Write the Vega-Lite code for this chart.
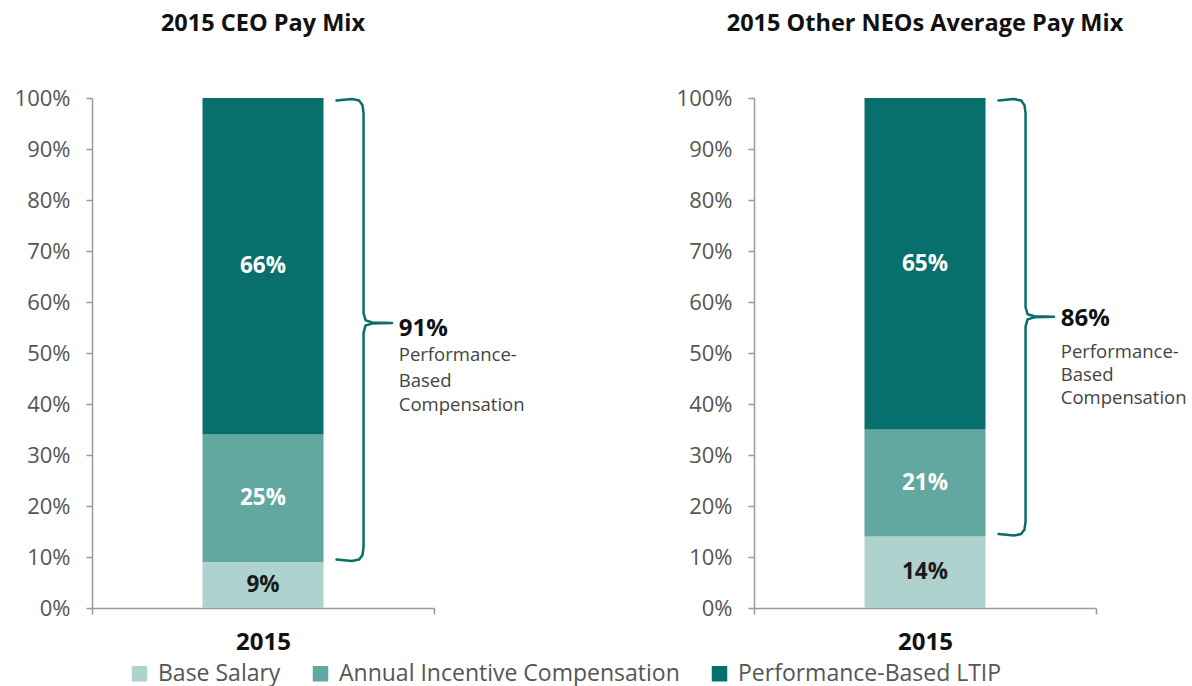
{
  "$schema": "https://vega.github.io/schema/vega-lite/v6.json",
  "background": "white",
  "padding": {"left": 14, "top": 11, "right": 5, "bottom": 5},
  "datasets": {
    "pay": [
      {"panel": "CEO", "year": "2015", "component": "Base Salary", "share": 0.09, "rank": 1},
      {"panel": "CEO", "year": "2015", "component": "Annual Incentive Compensation", "share": 0.25, "rank": 2},
      {"panel": "CEO", "year": "2015", "component": "Performance-Based LTIP", "share": 0.66, "rank": 3},
      {"panel": "NEO", "year": "2015", "component": "Base Salary", "share": 0.14, "rank": 1},
      {"panel": "NEO", "year": "2015", "component": "Annual Incentive Compensation", "share": 0.21, "rank": 2},
      {"panel": "NEO", "year": "2015", "component": "Performance-Based LTIP", "share": 0.65, "rank": 3}
    ],
    "brace": [
      {"panel": "CEO", "seq": 1, "bx": 0.715, "by": 0.995},
      {"panel": "CEO", "seq": 2, "bx": 0.76, "by": 0.998},
      {"panel": "CEO", "seq": 3, "bx": 0.781, "by": 0.995},
      {"panel": "CEO", "seq": 4, "bx": 0.791, "by": 0.986},
      {"panel": "CEO", "seq": 5, "bx": 0.794, "by": 0.97},
      {"panel": "CEO", "seq": 6, "bx": 0.794, "by": 0.578},
      {"panel": "CEO", "seq": 7, "bx": 0.8, "by": 0.564},
      {"panel": "CEO", "seq": 8, "bx": 0.82, "by": 0.56},
      {"panel": "CEO", "seq": 9, "bx": 0.877, "by": 0.559},
      {"panel": "CEO", "seq": 10, "bx": 0.82, "by": 0.558},
      {"panel": "CEO", "seq": 11, "bx": 0.8, "by": 0.554},
      {"panel": "CEO", "seq": 12, "bx": 0.794, "by": 0.54},
      {"panel": "CEO", "seq": 13, "bx": 0.794, "by": 0.12},
      {"panel": "CEO", "seq": 14, "bx": 0.791, "by": 0.104},
      {"panel": "CEO", "seq": 15, "bx": 0.781, "by": 0.095},
      {"panel": "CEO", "seq": 16, "bx": 0.76, "by": 0.092},
      {"panel": "CEO", "seq": 17, "bx": 0.715, "by": 0.095},
      {"panel": "NEO", "seq": 1, "bx": 0.715, "by": 0.995},
      {"panel": "NEO", "seq": 2, "bx": 0.76, "by": 0.998},
      {"panel": "NEO", "seq": 3, "bx": 0.781, "by": 0.995},
      {"panel": "NEO", "seq": 4, "bx": 0.791, "by": 0.986},
      {"panel": "NEO", "seq": 5, "bx": 0.794, "by": 0.97},
      {"panel": "NEO", "seq": 6, "bx": 0.794, "by": 0.59},
      {"panel": "NEO", "seq": 7, "bx": 0.8, "by": 0.576},
      {"panel": "NEO", "seq": 8, "bx": 0.82, "by": 0.572},
      {"panel": "NEO", "seq": 9, "bx": 0.877, "by": 0.571},
      {"panel": "NEO", "seq": 10, "bx": 0.82, "by": 0.57},
      {"panel": "NEO", "seq": 11, "bx": 0.8, "by": 0.566},
      {"panel": "NEO", "seq": 12, "bx": 0.794, "by": 0.552},
      {"panel": "NEO", "seq": 13, "bx": 0.794, "by": 0.17},
      {"panel": "NEO", "seq": 14, "bx": 0.791, "by": 0.154},
      {"panel": "NEO", "seq": 15, "bx": 0.781, "by": 0.145},
      {"panel": "NEO", "seq": 16, "bx": 0.76, "by": 0.142},
      {"panel": "NEO", "seq": 17, "bx": 0.715, "by": 0.145}
    ],
    "note": [
      {"panel": "CEO", "kind": "headline", "label": "91%", "nx": 0.897, "ny": 0.547},
      {"panel": "CEO", "kind": "detail", "label": "Performance-", "nx": 0.897, "ny": 0.496},
      {"panel": "CEO", "kind": "detail", "label": "Based", "nx": 0.897, "ny": 0.445},
      {"panel": "CEO", "kind": "detail", "label": "Compensation", "nx": 0.897, "ny": 0.398},
      {"panel": "NEO", "kind": "headline", "label": "86%", "nx": 0.897, "ny": 0.567},
      {"panel": "NEO", "kind": "detail", "label": "Performance-", "nx": 0.897, "ny": 0.502},
      {"panel": "NEO", "kind": "detail", "label": "Based", "nx": 0.897, "ny": 0.457},
      {"panel": "NEO", "kind": "detail", "label": "Compensation", "nx": 0.897, "ny": 0.412}
    ]
  },
  "spacing": 151,
  "hconcat": [
    {
      "title": "2015 CEO Pay Mix",
      "width": 342,
      "height": 510,
      "layer": [
        {
          "data": {"name": "pay"},
          "transform": [{"filter": "datum.panel === 'CEO'"}],
          "mark": {"type": "bar", "width": 121},
          "encoding": {
            "x": {"field": "year", "type": "nominal", "scale": {"paddingInner": 0, "paddingOuter": 0},
                  "axis": {"title": null, "labelAngle": 0, "tickBand": "extent", "ticks": true}},
            "y": {"field": "share", "type": "quantitative", "stack": "zero", "scale": {"domain": [0, 1]},
                  "axis": {"title": null, "format": ".0%", "values": [0, 0.1, 0.2, 0.3, 0.4, 0.5, 0.6, 0.7, 0.8, 0.9, 1]}},
            "color": {"field": "component", "type": "nominal",
                      "scale": {"domain": ["Base Salary", "Annual Incentive Compensation", "Performance-Based LTIP"], "range": ["#aed3ce", "#62a7a0", "#08706c"]},
                      "legend": {"title": null, "orient": "none", "direction": "horizontal", "legendX": 36, "legendY": 564}},
            "order": {"field": "rank"}
          }
        },
        {
          "data": {"name": "pay"},
          "transform": [
            {"filter": "datum.panel === 'CEO'"},
            {"stack": "share", "groupby": ["year"], "sort": [{"field": "rank"}], "as": ["lo", "hi"]},
            {"calculate": "(datum.lo + datum.hi) / 2", "as": "mid"}
          ],
          "mark": {"type": "text", "font": "Open Sans", "fontSize": 22.5, "fontWeight": "bold", "baseline": "middle"},
          "encoding": {
            "x": {"field": "year", "type": "nominal", "scale": {"paddingInner": 0, "paddingOuter": 0}, "axis": null},
            "y": {"field": "mid", "type": "quantitative"},
            "text": {"field": "share", "type": "quantitative", "format": ".0%"},
            "color": {"condition": {"test": "datum.component === 'Base Salary'", "value": "#1a1a1a"}, "value": "white"}
          }
        },
        {
          "data": {"name": "brace"},
          "transform": [{"filter": "datum.panel === 'CEO'"}],
          "mark": {"type": "line", "color": "#0b6d69", "strokeWidth": 2.5, "strokeCap": "round", "strokeJoin": "round"},
          "encoding": {
            "x": {"field": "bx", "type": "quantitative", "scale": {"domain": [0, 1], "nice": false}, "axis": null},
            "y": {"field": "by", "type": "quantitative"},
            "order": {"field": "seq"}
          }
        },
        {
          "data": {"name": "note"},
          "transform": [{"filter": "datum.panel === 'CEO' && datum.kind === 'headline'"}],
          "mark": {"type": "text", "font": "Open Sans", "fontSize": 24, "fontWeight": "bold", "align": "left", "baseline": "middle", "color": "#111111"},
          "encoding": {
            "x": {"field": "nx", "type": "quantitative", "scale": {"domain": [0, 1], "nice": false}, "axis": null},
            "y": {"field": "ny", "type": "quantitative"},
            "text": {"field": "label"}
          }
        },
        {
          "data": {"name": "note"},
          "transform": [{"filter": "datum.panel === 'CEO' && datum.kind === 'detail'"}],
          "mark": {"type": "text", "font": "Open Sans", "fontSize": 18.5, "align": "left", "baseline": "middle", "color": "#444444"},
          "encoding": {
            "x": {"field": "nx", "type": "quantitative", "scale": {"domain": [0, 1], "nice": false}, "axis": null},
            "y": {"field": "ny", "type": "quantitative"},
            "text": {"field": "label"}
          }
        }
      ],
      "resolve": {"scale": {"x": "independent"}, "axis": {"x": "independent"}}
    },
    {
      "title": "2015 Other NEOs Average Pay Mix",
      "width": 342,
      "height": 510,
      "layer": [
        {
          "data": {"name": "pay"},
          "transform": [{"filter": "datum.panel === 'NEO'"}],
          "mark": {"type": "bar", "width": 121},
          "encoding": {
            "x": {"field": "year", "type": "nominal", "scale": {"paddingInner": 0, "paddingOuter": 0},
                  "axis": {"title": null, "labelAngle": 0, "tickBand": "extent", "ticks": true}},
            "y": {"field": "share", "type": "quantitative", "stack": "zero", "scale": {"domain": [0, 1]},
                  "axis": {"title": null, "format": ".0%", "values": [0, 0.1, 0.2, 0.3, 0.4, 0.5, 0.6, 0.7, 0.8, 0.9, 1]}},
            "color": {"field": "component", "type": "nominal",
                      "scale": {"domain": ["Base Salary", "Annual Incentive Compensation", "Performance-Based LTIP"], "range": ["#aed3ce", "#62a7a0", "#08706c"]},
                      "legend": {"title": null, "orient": "none", "direction": "horizontal", "legendX": 36, "legendY": 564}},
            "order": {"field": "rank"}
          }
        },
        {
          "data": {"name": "pay"},
          "transform": [
            {"filter": "datum.panel === 'NEO'"},
            {"stack": "share", "groupby": ["year"], "sort": [{"field": "rank"}], "as": ["lo", "hi"]},
            {"calculate": "(datum.lo + datum.hi) / 2", "as": "mid"}
          ],
          "mark": {"type": "text", "font": "Open Sans", "fontSize": 22.5, "fontWeight": "bold", "baseline": "middle"},
          "encoding": {
            "x": {"field": "year", "type": "nominal", "scale": {"paddingInner": 0, "paddingOuter": 0}, "axis": null},
            "y": {"field": "mid", "type": "quantitative"},
            "text": {"field": "share", "type": "quantitative", "format": ".0%"},
            "color": {"condition": {"test": "datum.component === 'Base Salary'", "value": "#1a1a1a"}, "value": "white"}
          }
        },
        {
          "data": {"name": "brace"},
          "transform": [{"filter": "datum.panel === 'NEO'"}],
          "mark": {"type": "line", "color": "#0b6d69", "strokeWidth": 2.5, "strokeCap": "round", "strokeJoin": "round"},
          "encoding": {
            "x": {"field": "bx", "type": "quantitative", "scale": {"domain": [0, 1], "nice": false}, "axis": null},
            "y": {"field": "by", "type": "quantitative"},
            "order": {"field": "seq"}
          }
        },
        {
          "data": {"name": "note"},
          "transform": [{"filter": "datum.panel === 'NEO' && datum.kind === 'headline'"}],
          "mark": {"type": "text", "font": "Open Sans", "fontSize": 24, "fontWeight": "bold", "align": "left", "baseline": "middle", "color": "#111111"},
          "encoding": {
            "x": {"field": "nx", "type": "quantitative", "scale": {"domain": [0, 1], "nice": false}, "axis": null},
            "y": {"field": "ny", "type": "quantitative"},
            "text": {"field": "label"}
          }
        },
        {
          "data": {"name": "note"},
          "transform": [{"filter": "datum.panel === 'NEO' && datum.kind === 'detail'"}],
          "mark": {"type": "text", "font": "Open Sans", "fontSize": 18.5, "align": "left", "baseline": "middle", "color": "#444444"},
          "encoding": {
            "x": {"field": "nx", "type": "quantitative", "scale": {"domain": [0, 1], "nice": false}, "axis": null},
            "y": {"field": "ny", "type": "quantitative"},
            "text": {"field": "label"}
          }
        }
      ],
      "resolve": {"scale": {"x": "independent"}, "axis": {"x": "independent"}}
    }
  ],
  "config": {
    "view": {"stroke": null},
    "font": "Open Sans",
    "title": {"font": "Open Sans", "fontSize": 23.5, "fontWeight": "bold", "color": "#111111", "offset": 52},
    "axis": {
      "grid": false,
      "domainColor": "#9a9a9a",
      "domainWidth": 1.5,
      "tickColor": "#9a9a9a",
      "tickWidth": 1.5,
      "tickSize": 6,
      "labelFont": "Open Sans",
      "labelColor": "#555555",
      "labelFontSize": 22
    },
    "axisY": {"labelPadding": 16},
    "axisX": {"labelFontWeight": "bold", "labelColor": "#111111", "labelFontSize": 24, "labelPadding": 16},
    "legend": {
      "symbolType": "square",
      "symbolSize": 240,
      "symbolStrokeWidth": 0,
      "labelFont": "Open Sans",
      "labelFontSize": 23,
      "labelColor": "#555555",
      "labelLimit": 0,
      "columnPadding": 28,
      "labelOffset": 7
    }
  }
}
